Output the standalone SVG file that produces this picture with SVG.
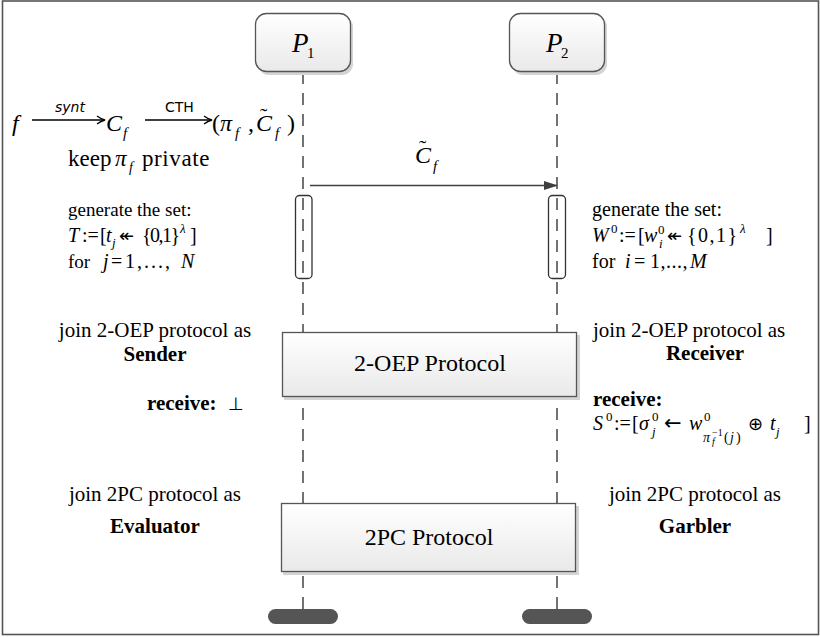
<svg xmlns="http://www.w3.org/2000/svg" width="820" height="637" viewBox="0 0 820 637">
<defs>
<linearGradient id="gBox" x1="0" y1="0" x2="0" y2="1">
<stop offset="0" stop-color="#ffffff"/>
<stop offset="1" stop-color="#e9e9e9"/>
</linearGradient>
<marker id="ah" markerWidth="14" markerHeight="10" refX="13" refY="5" orient="auto" markerUnits="userSpaceOnUse">
<path d="M0,0.5 L14,5 L0,9.5 Z" fill="#404040"/>
</marker>
<style>
.t{font-family:"Liberation Serif","Times New Roman",serif;fill:#000}
.i{font-style:italic}
.n{font-style:normal}
.b{font-weight:bold}
.s{font-family:"DejaVu Sans","Liberation Sans",sans-serif;font-style:normal}
.life{stroke:#444;stroke-width:1.5;stroke-dasharray:12 9;fill:none}
.pbox{fill:url(#gBox);stroke:#555;stroke-width:1.3}
.shadow{fill:#d4d4d4}
.act{fill:none;stroke:#333;stroke-width:1.3}
.proto{fill:url(#gBox);stroke:#555;stroke-width:1.3}
.pill{fill:#555}
.ar{stroke:#000;stroke-width:1.3;fill:none}
</style>
</defs>
<rect x="2.5" y="1" width="816" height="633.5" fill="#fff" stroke="#555" stroke-width="1.6"/>

<g id="connectors">
<line class="life" x1="303" y1="72" x2="303" y2="610"/>
<line class="life" x1="557" y1="72" x2="557" y2="610"/>
<line x1="310" y1="185.5" x2="557" y2="185.5" stroke="#404040" stroke-width="1.5" marker-end="url(#ah)"/>
</g>

<g id="P1">
<rect class="shadow" x="258" y="16" width="95" height="59" rx="11"/>
<rect class="pbox" x="255.5" y="13.5" width="95" height="58" rx="11"/>
<text class="t i" x="292" y="52" font-size="27">P<tspan class="n" x="307" y="58" font-size="15">1</tspan></text>
</g>
<g id="P2">
<rect class="shadow" x="512" y="16" width="95" height="59" rx="11"/>
<rect class="pbox" x="509.5" y="13.5" width="95" height="58" rx="11"/>
<text class="t i" x="546" y="52" font-size="27">P<tspan class="n" x="561" y="58" font-size="15">2</tspan></text>
</g>

<g id="act1"><rect class="act" x="295.5" y="195.5" width="16.5" height="83" rx="4"/></g>
<g id="act2"><rect class="act" x="548.5" y="195.5" width="17" height="83" rx="4"/></g>

<g id="msg-label">
<text class="t i" x="415" y="163" font-size="24">C<tspan class="n" x="419" y="155" font-size="22">˜</tspan><tspan x="433" y="171" font-size="15">f</tspan></text>
</g>

<g id="eq-top">
<text class="t i" x="12" y="131" font-size="24">f</text>
<line class="ar" x1="32" y1="120" x2="104" y2="120"/>
<path class="ar" d="M97,116 Q101,119 105,120 Q101,121 97,124"/>
<text class="s" x="55" y="112" font-size="14" style="font-style:italic">synt</text>
<text class="t i" x="106" y="131" font-size="24">C<tspan x="123" y="138" font-size="15">f</tspan></text>
<line class="ar" x1="145" y1="120" x2="211" y2="120"/>
<path class="ar" d="M204,116 Q208,119 212,120 Q208,121 204,124"/>
<text class="s" x="165" y="112" font-size="14">CTH</text>
<text class="t" x="212" y="131" font-size="24">(<tspan class="i" x="220" y="131">π</tspan><tspan class="i" x="235" y="138" font-size="15">f</tspan><tspan x="248" y="131">,</tspan><tspan class="i" x="256" y="131">C</tspan><tspan x="260" y="123" font-size="22">˜</tspan><tspan class="i" x="275" y="138" font-size="15">f</tspan><tspan x="287" y="131">)</tspan></text>
</g>

<g id="keep">
<text class="t" x="68" y="166" font-size="23">keep<tspan class="i" x="115" y="166">π</tspan><tspan class="i" x="129" y="172" font-size="14">f</tspan><tspan x="142" y="166" letter-spacing="0.6">private</tspan></text>
</g>

<g id="gen-left">
<text class="t" x="68" y="216" font-size="19">generate the set:</text>
<text class="t" x="68" y="242" font-size="20"><tspan class="i">T</tspan><tspan x="82">:=</tspan><tspan x="100">[</tspan><tspan class="i" x="106">t</tspan><tspan class="i" x="112" y="247" font-size="13">j</tspan><tspan class="s" x="119" y="242" font-size="18">↞</tspan><tspan x="142" y="242" letter-spacing="-1.5">{0,1}</tspan><tspan class="i" x="180" y="233" font-size="13">λ</tspan><tspan x="190" y="242">]</tspan></text>
<text class="t" x="68" y="268" font-size="19">for<tspan class="i" x="103" font-size="20">j</tspan><tspan x="111" font-size="20">=</tspan><tspan x="125" font-size="20" letter-spacing="2">1,...,</tspan><tspan class="i" x="181" font-size="20">N</tspan></text>
</g>

<g id="gen-right">
<text class="t" x="592" y="216" font-size="20">generate the set:</text>
<text class="t" x="592" y="242" font-size="20"><tspan class="i">W</tspan><tspan x="611" y="233" font-size="13">0</tspan><tspan x="619" y="242">:=</tspan><tspan x="638">[</tspan><tspan class="i" x="644">w</tspan><tspan x="658" y="234" font-size="13">0</tspan><tspan class="i" x="659" y="248" font-size="13">i</tspan><tspan class="s" x="667" y="242" font-size="18">↞</tspan><tspan x="687" y="242" letter-spacing="1.5">{0,1}</tspan><tspan class="i" x="740" y="233" font-size="13">λ</tspan><tspan x="766" y="242">]</tspan></text>
<text class="t" x="592" y="268" font-size="20">for<tspan class="i" x="625">i</tspan><tspan x="634">=</tspan><tspan x="650" letter-spacing="0.5">1,...,</tspan><tspan class="i" x="690">M</tspan></text>
</g>

<g id="oep">
<rect class="shadow" x="284" y="335" width="296" height="65"/>
<rect class="proto" x="282.5" y="332.5" width="294" height="64"/>
<text class="t" x="430" y="371" font-size="24" text-anchor="middle">2-OEP Protocol</text>
</g>

<g id="oep-left">
<text class="t" x="155" y="337" font-size="21" text-anchor="middle">join 2-OEP protocol as</text>
<text class="t b" x="155" y="361" font-size="21" text-anchor="middle">Sender</text>
<text class="t b" x="147" y="410" font-size="21">receive:<tspan class="s" x="228" font-size="18" font-weight="normal">⊥</tspan></text>
</g>

<g id="oep-right">
<text class="t" x="593" y="337" font-size="21">join 2-OEP protocol as</text>
<text class="t b" x="705" y="360" font-size="21" text-anchor="middle">Receiver</text>
<text class="t b" x="593" y="406" font-size="21">receive:</text>
<text class="t" x="593" y="430" font-size="20"><tspan class="i">S</tspan><tspan x="606" y="421" font-size="13">0</tspan><tspan x="614" y="430">:=</tspan><tspan x="632">[</tspan><tspan class="i" x="639">σ</tspan><tspan x="652" y="421" font-size="13">0</tspan><tspan class="i" x="652" y="436" font-size="13">j</tspan><tspan class="s" x="664" y="430" font-size="21">←</tspan><tspan class="i" x="689" y="430">w</tspan><tspan x="704" y="421" font-size="13">0</tspan><tspan class="i" x="703" y="442" font-size="14">π</tspan><tspan class="i" x="712" y="445" font-size="10">f</tspan><tspan x="712" y="436" font-size="10">−1</tspan><tspan x="724" y="442" font-size="14">(</tspan><tspan class="i" x="730" y="442" font-size="14">j</tspan><tspan x="736" y="442" font-size="14">)</tspan><tspan class="s" x="748" y="430" font-size="18">⊕</tspan><tspan class="i" x="770" y="430">t</tspan><tspan class="i" x="776" y="436" font-size="13">j</tspan><tspan x="804" y="430">]</tspan></text>
</g>

<g id="pc">
<rect class="shadow" x="283" y="506" width="296" height="69"/>
<rect class="proto" x="281.5" y="503.5" width="294" height="68"/>
<text class="t" x="429" y="545" font-size="24" text-anchor="middle">2PC Protocol</text>
</g>

<g id="pc-left">
<text class="t" x="155" y="501" font-size="21" text-anchor="middle">join 2PC protocol as</text>
<text class="t b" x="155" y="533" font-size="21" text-anchor="middle">Evaluator</text>
</g>
<g id="pc-right">
<text class="t" x="695" y="501" font-size="21" text-anchor="middle">join 2PC protocol as</text>
<text class="t b" x="695" y="533" font-size="21" text-anchor="middle">Garbler</text>
</g>

<g id="end1"><rect class="pill" x="268" y="609" width="70" height="15" rx="7.5"/></g>
<g id="end2"><rect class="pill" x="522" y="609" width="70" height="15" rx="7.5"/></g>
</svg>
